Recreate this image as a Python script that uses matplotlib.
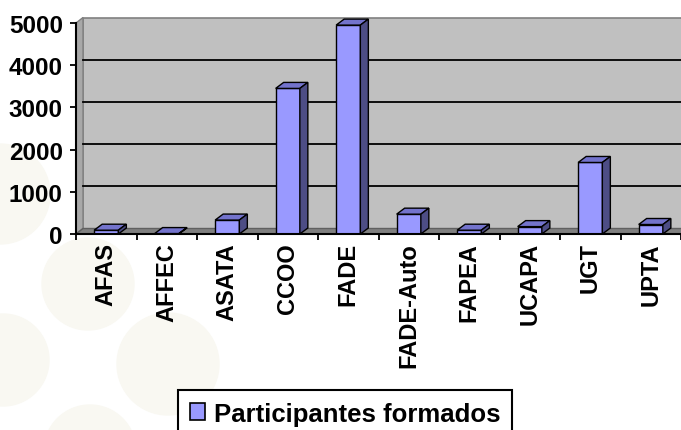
import matplotlib
matplotlib.use('Agg')
import matplotlib.pyplot as plt
import numpy as np
from matplotlib.patches import Polygon, Ellipse, Rectangle

# datos
categories = ['AFAS', 'AFFEC', 'ASATA', 'CCOO', 'FADE', 'FADE-Auto',
              'FAPEA', 'UCAPA', 'UGT', 'UPTA']
participantes = [90, 10, 330, 3450, 4950, 470, 90, 175, 1695, 225]
yticks = [0, 1000, 2000, 3000, 4000, 5000]
serie = 'Participantes formados'

plt.rcParams['font.family'] = ['Liberation Sans', 'DejaVu Sans']

W, H = 681, 431
fig = plt.figure(figsize=(W / 100, H / 100), dpi=100)
fig.patch.set_facecolor('white')

# circulos del fondo de la diapositiva
for cx, cy, r in [(88, 285, 46), (168, 365, 51), (3, 361, 46), (90, 452, 46),
                  (0, 195, 50), (290, 470, 50)]:
    fig.patches.append(Ellipse((cx / W, 1 - cy / H), 2 * r / W, 2 * r / H,
                               transform=fig.transFigure, color='#F9F8F2',
                               zorder=-5))

ax = fig.add_axes([76 / W, (H - 235) / H, 605 / W, 211 / H])
ax.set_xlim(-0.5, len(categories) - 0.5)
ax.set_ylim(0, 5000)
ax.patch.set_visible(False)


def px(dx, dy):
    # desplazamiento en pixeles -> unidades de datos
    p0 = ax.transData.transform((0, 0))
    d = ax.transData.inverted().transform(p0 + np.array([dx, dy]))
    return d[0], d[1]


x0, x1 = ax.get_xlim()
wx, wy = px(7, 5.5)
ytop = yticks[-1]

# pared del fondo, pared lateral y suelo
ax.add_patch(Polygon([(x0 + wx, wy), (x1 + wx, wy), (x1 + wx, ytop + wy),
                      (x0 + wx, ytop + wy)], closed=True, fc='#C0C0C0',
                     ec='#808080', lw=1.2, clip_on=False, zorder=0))
ax.add_patch(Polygon([(x0, 0), (x0 + wx, wy), (x0 + wx, ytop + wy), (x0, ytop)],
                     closed=True, fc='#A8A8A8', ec='#808080', lw=1,
                     clip_on=False, zorder=0.5))
ax.add_patch(Polygon([(x0, 0), (x1, 0), (x1 + wx, wy), (x0 + wx, wy)],
                     closed=True, fc='#808080', ec='#606060', lw=1,
                     clip_on=False, zorder=0.5))
for v in yticks[1:-1]:
    ax.plot([x0 + wx, x1 + wx], [v + wy, v + wy], color='black', lw=1.3,
            clip_on=False, zorder=1)

# barras 3d
x = np.arange(len(categories))
bw = 0.4
bx, by = px(8, 6)
ax.bar(x, participantes, width=bw, color='#9999FF', edgecolor='black',
       lw=1, zorder=3)
for xi, v in zip(x, participantes):
    l, r = xi - bw / 2, xi + bw / 2
    ax.add_patch(Polygon([(l, v), (r, v), (r + bx, v + by), (l + bx, v + by)],
                         closed=True, fc='#7373CC', ec='black', lw=1,
                         clip_on=False, zorder=3))
    ax.add_patch(Polygon([(r, 0), (r + bx, by), (r + bx, v + by), (r, v)],
                         closed=True, fc='#4D4D85', ec='black', lw=1,
                         clip_on=False, zorder=3))

# ejes
for s in ['top', 'right']:
    ax.spines[s].set_visible(False)
for s in ['left', 'bottom']:
    ax.spines[s].set_linewidth(1.5)
    ax.spines[s].set_zorder(4)

ax.set_xticks(np.arange(x0, x1 + 0.01, 1))
ax.set_xticklabels([])
ax.set_xticks(x, minor=True)
ax.set_xticklabels(categories, minor=True, rotation=90, fontsize=17,
                   fontweight='bold')
ax.tick_params(axis='x', which='major', length=4.5, width=1.3, direction='out')
ax.tick_params(axis='x', which='minor', length=0, pad=6)

ax.set_yticks(yticks)
ax.set_yticklabels([str(t) for t in yticks], fontsize=17.5, fontweight='bold')
ax.tick_params(axis='y', length=4.5, width=1.3, pad=5)

# leyenda
handle = Rectangle((0, 0), 1, 1, fc='#9999FF', ec='black', lw=1.2)
leg = fig.legend([handle], [serie], loc='upper left',
                 bbox_to_anchor=(178 / W, 1 - 391 / H), borderaxespad=0,
                 fancybox=False, edgecolor='black', framealpha=1,
                 borderpad=0.45, handlelength=0.6, handleheight=0.6,
                 handletextpad=0.35,
                 prop={'size': 18.5, 'weight': 'bold'})
leg.get_frame().set_linewidth(1.5)

fig.savefig('out.png', dpi=100)
